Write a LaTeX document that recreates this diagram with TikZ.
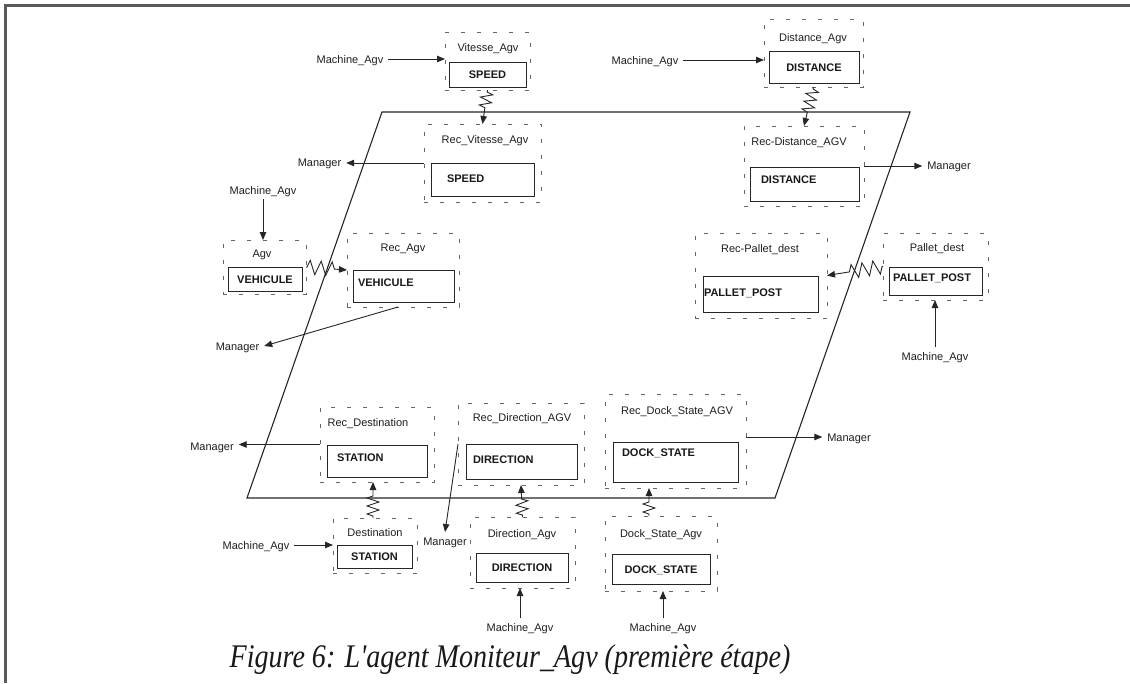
\documentclass[tikz,border=0pt]{standalone}
\usepackage{fontspec}
\setmainfont{Liberation Serif}
\setsansfont{Liberation Sans}
\usetikzlibrary{arrows.meta,decorations.pathmorphing}

\begin{document}
\begin{tikzpicture}[x=1pt,y=-1pt,
  every node/.style={inner sep=0pt, outer sep=0pt},
  lbl/.style={font=\sffamily\fontsize{11}{12}\selectfont, text=black!88, text height=8pt, text depth=0pt},
  msgtext/.style={lbl, outer sep=5pt},
  val/.style={font=\sffamily\bfseries\fontsize{11}{12}\selectfont, text=black!90, text height=8pt, text depth=0pt},
  agentbox/.style={draw=black!60, dash pattern=on 4pt off 12pt, line width=0.9pt},
  slot/.style={draw=black!85, line width=0.9pt},
  msg/.style={draw=black!85, line width=0.9pt, -{Triangle[length=8pt,width=6.5pt]}},
  link/.style={msg, decorate, decoration={zigzag, amplitude=6pt, segment length=8pt, pre length=2pt, post length=14pt}},
  hlink/.style={msg, decorate, decoration={zigzag, amplitude=7pt, segment length=11pt, pre length=1pt, post length=#1}},
]
\useasboundingbox (0,0) rectangle (1130,683);
\fill[white] (0,0) rectangle (1130,683);

% page frame
\draw[black!65, line width=2.4pt] (5.5,683) -- (5.5,5.5) -- (1130,5.5);

% the agent's boundary
\draw[black!85, line width=1.1pt] (382,112) -- (910,112) -- (775,498) -- (247,498) -- cycle;

% ---- dashed object boxes ----
\node[agentbox, minimum width=85pt,  minimum height=58pt] (vitO)     at (487.5,61)   {};
\node[agentbox, minimum width=117pt, minimum height=78pt] (recvitO)  at (482.5,163)  {};
\node[agentbox, minimum width=99pt,  minimum height=68pt] (distO)    at (813.5,53)   {};
\node[agentbox, minimum width=120pt, minimum height=80pt] (recdistO) at (804,166)    {};
\node[agentbox, minimum width=83pt,  minimum height=54pt] (agvO)     at (264.5,267)  {};
\node[agentbox, minimum width=112pt, minimum height=74pt] (recagvO)  at (403,270)    {};
\node[agentbox, minimum width=132pt, minimum height=85pt] (recpalO)  at (761,275.5)  {};
\node[agentbox, minimum width=105pt, minimum height=67pt] (palO)     at (935.5,266.5){};
\node[agentbox, minimum width=114pt, minimum height=75pt] (recdestO) at (377,444.5)  {};
\node[agentbox, minimum width=84pt,  minimum height=55pt] (destO)    at (375,545.5)  {};
\node[agentbox, minimum width=126pt, minimum height=82pt] (recdirO)  at (521,444)    {};
\node[agentbox, minimum width=105pt, minimum height=71pt] (dirO)     at (522.5,552.5){};
\node[agentbox, minimum width=141pt, minimum height=94pt] (recdockO) at (675.5,441)  {};
\node[agentbox, minimum width=112pt, minimum height=75pt] (dockO)    at (661,553.5)  {};

% ---- object names ----
\node[lbl] (vitL)     at (488,47)  {Vitesse\_Agv};
\node[lbl] (recvitL)  at (485,139) {Rec\_Vitesse\_Agv};
\node[lbl] (distL)    at (813,37)  {Distance\_Agv};
\node[lbl] (recdistL) at (799,141) {Rec-Distance\_AGV};
\node[lbl] (agvL)     at (262,253) {Agv};
\node[lbl] (recagvL)  at (403,247) {Rec\_Agv};
\node[lbl] (recpalL)  at (760,248) {Rec-Pallet\_dest};
\node[lbl] (palL)     at (937,247) {Pallet\_dest};
\node[lbl] (recdestL) at (368,422) {Rec\_Destination};
\node[lbl] (destL)    at (375,532) {Destination};
\node[lbl] (recdirL)  at (522,417) {Rec\_Direction\_AGV};
\node[lbl] (dirL)     at (522,533) {Direction\_Agv};
\node[lbl] (recdockL) at (677,410) {Rec\_Dock\_State\_AGV};
\node[lbl] (dockL)    at (661,533) {Dock\_State\_Agv};

% ---- attribute slots ----
\node[slot, val, minimum width=77pt,  minimum height=25pt] (vitI)  at (487.5,74.5) {SPEED};
\node[slot, val, minimum width=90pt,  minimum height=32pt] (distI) at (814,67)     {DISTANCE};
\node[slot, val, minimum width=74pt,  minimum height=24pt] (agvI)  at (265,279)    {VEHICULE};
\node[slot, minimum width=93pt,  minimum height=28pt] (palI)  at (935.5,281)  {};
\node[val, anchor=west] (palT) at (893,277) {PALLET\_POST};
\node[slot, val, minimum width=75pt,  minimum height=23pt] (destI) at (374.5,556.5) {STATION};
\node[slot, val, minimum width=92pt,  minimum height=29pt] (dirI)  at (522,567.5)  {DIRECTION};
\node[slot, val, minimum width=98pt,  minimum height=30pt] (dockI) at (661,569)    {DOCK\_STATE};

\node[slot, minimum width=103pt, minimum height=33pt] (recvitI)  at (482.5,179.5) {};
\node[val, anchor=west] (recvitT)  at (447,178) {SPEED};
\node[slot, minimum width=109pt, minimum height=34pt] (recdistI) at (804.5,184)   {};
\node[val, anchor=west] (recdistT) at (761,179) {DISTANCE};
\node[slot, minimum width=101pt, minimum height=32pt] (recagvI)  at (403.5,286)   {};
\node[val, anchor=west] (recagvT)  at (358,282) {VEHICULE};
\node[slot, minimum width=115pt, minimum height=36pt] (recpalI)  at (760.5,294)   {};
\node[val, anchor=west] (recpalT)  at (704,292) {PALLET\_POST};
\node[slot, minimum width=100pt, minimum height=32pt] (recdestI) at (377,461)     {};
\node[val, anchor=west] (recdestT) at (337,457) {STATION};
\node[slot, minimum width=111pt, minimum height=35pt] (recdirI)  at (521.5,461.5) {};
\node[val, anchor=west] (recdirT)  at (473,459) {DIRECTION};
\node[slot, minimum width=125pt, minimum height=40pt] (recdockI) at (675.5,462)   {};
\node[val, anchor=west] (recdockT) at (622,452) {DOCK\_STATE};

% ---- senders and receivers ----
\node[msgtext] (m1) at (350,59)  {Machine\_Agv};
\node[msgtext] (m2) at (645,60)  {Machine\_Agv};
\node[msgtext] (m3) at (263,190) {Machine\_Agv};
\node[msgtext] (m4) at (935,356) {Machine\_Agv};
\node[msgtext] (m5) at (256,545) {Machine\_Agv};
\node[msgtext] (m6) at (520,627) {Machine\_Agv};
\node[msgtext] (m7) at (663,627) {Machine\_Agv};

\node[msgtext] (mgr1) at (319.5,162) {Manager};
\node[msgtext] (mgr2) at (949,165)   {Manager};
\node[msgtext] (mgr3) at (237.5,346) {Manager};
\node[msgtext] (mgr4) at (212,446)   {Manager};
\node[msgtext] (mgr5) at (445,541)   {Manager};
\node[msgtext] (mgr6) at (849,437)   {Manager};

\coordinate (dockzz) at (649,488);
\coordinate (destzz) at (373,482);

% ---- incoming messages ----
\draw[msg] (m1.east) -- (m1.east -| vitO.west);
\draw[msg] (m2.east) -- (m2.east -| distO.west);
\draw[msg] (m3.south) -- (m3.south |- agvO.north);
\draw[msg] (m4.north) -- (m4.north |- palO.south);
\draw[msg] (m5.east) -- (m5.east -| destO.west);
\draw[msg] (m6.north) -- (m6.north |- dirO.south);
\draw[msg] (m7.north) -- (m7.north |- dockO.south);

% ---- replication links into the agent ----
\draw[link] (vitO.south) -- (recvitO.north);
\draw[link] (distO.south) -- (recdistO.north);
\draw[hlink=11pt] (agvO.east) -- (recagvO.west);
\draw[hlink=22pt] (palO.west) -- (recpalO.east);
\draw[link] (destzz |- destO.north) -- (destzz);
\draw[link] (dirO.north) -- (recdirO.south);
\draw[link] (dockzz |- dockO.north) -- (dockzz);

% ---- outgoing messages ----
\draw[msg] (recvitO.west) -- (recvitO.west -| mgr1.east);
\draw[msg] (recdistO.east) -- (recdistO.east -| mgr2.west);
\draw[msg] ([xshift=-5pt]recagvO.south) -- (mgr3.east);
\draw[msg] (recdestO.west) -- (recdestO.west -| mgr4.east);
\draw[msg] (recdirO.west) -- (mgr5.north);
\draw[msg] (recdockO.east |- mgr6.west) -- (mgr6.west);

% ---- caption ----
\node[anchor=base, text=black!90, font=\itshape\fontsize{33}{36}\selectfont] (caption) at (510,667)
  {\scalebox{0.85}[1]{Figure 6: L\textquotesingle agent Moniteur\_Agv (première étape)}};
\end{tikzpicture}
\end{document}
